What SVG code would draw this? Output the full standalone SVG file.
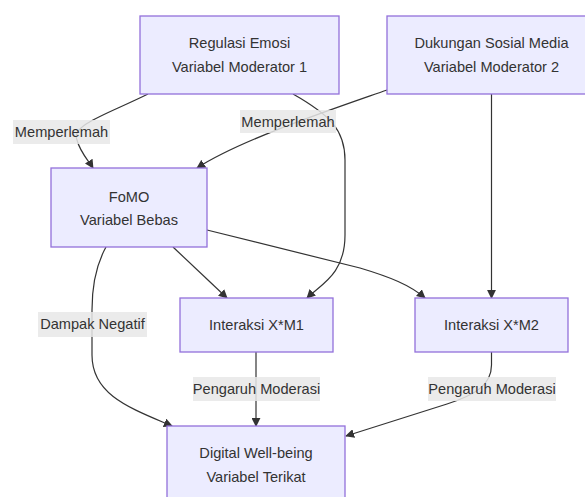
<svg xmlns="http://www.w3.org/2000/svg" width="585" height="497" viewBox="0 0 585 497">
<style>
.node rect{fill:#ECECFF;stroke:#9370DB;stroke-width:1.3}
text{font-family:"Trebuchet MS","Liberation Sans",Arial,sans-serif;font-size:14.6px;fill:#333;text-anchor:middle}
.edge{fill:none;stroke:#333;stroke-width:1.2}
.lbl rect{fill:#e8e8e8;fill-opacity:0.85}
</style>
<defs>
<marker id="arr" viewBox="0 0 10 10" refX="9" refY="5" markerWidth="9" markerHeight="9" markerUnits="userSpaceOnUse" orient="auto">
<path d="M0,0 L10,5 L0,10 z" fill="#333"/>
</marker>
</defs>
<rect width="585" height="497" fill="#fff"/>
<g id="connectors">
<path class="edge" marker-end="url(#arr)" d="M148,94 C110,113 70,125 77,140 C80,152 88,160 93,168"/>
<path class="edge" marker-end="url(#arr)" d="M387,90 C330,110 240,140 197,168"/>
<path class="edge" marker-end="url(#arr)" d="M293,94 C330,115 345,130 345,160 L345,235 C345,275 320,285 307,298"/>
<path class="edge" marker-end="url(#arr)" d="M491.5,94 L491.5,298"/>
<path class="edge" marker-end="url(#arr)" d="M173,247 L227,298"/>
<path class="edge" marker-end="url(#arr)" d="M207,230 L360,268 C390,277 410,285 425,298"/>
<path class="edge" marker-end="url(#arr)" d="M106,247 C96,265 92,285 92,310 L92,355 C92,395 130,408 172,426"/>
<path class="edge" marker-end="url(#arr)" d="M256,352 L256,426"/>
<path class="edge" marker-end="url(#arr)" d="M491.5,352 L491.5,365 C491.5,385 475,395 447,404 L346,436"/>
</g>
<g id="labels">
<g class="lbl"><rect x="13" y="120" width="97" height="24"/><text x="61.5" y="137">Memperlemah</text></g>
<g class="lbl"><rect x="240" y="110" width="96" height="23"/><text x="288" y="127">Memperlemah</text></g>
<g class="lbl"><rect x="38" y="312" width="109" height="25"/><text x="92.5" y="329">Dampak Negatif</text></g>
<g class="lbl"><rect x="193" y="377" width="127" height="24"/><text x="256.5" y="394">Pengaruh Moderasi</text></g>
<g class="lbl"><rect x="428" y="377" width="128" height="24"/><text x="492" y="394">Pengaruh Moderasi</text></g>
</g>
<g id="regulasi" class="node"><rect x="140" y="16" width="199" height="78"/><text x="239.5" y="48">Regulasi Emosi</text><text x="239.5" y="72">Variabel Moderator 1</text></g>
<g id="dukungan" class="node"><rect x="387" y="16" width="209" height="78"/><text x="491.5" y="48">Dukungan Sosial Media</text><text x="491.5" y="72">Variabel Moderator 2</text></g>
<g id="fomo" class="node"><rect x="51" y="168" width="156" height="79"/><text x="129" y="202">FoMO</text><text x="129" y="225">Variabel Bebas</text></g>
<g id="xm1" class="node"><rect x="180" y="298" width="153" height="54"/><text x="256.5" y="330">Interaksi X*M1</text></g>
<g id="xm2" class="node"><rect x="415" y="298" width="153" height="54"/><text x="491.5" y="330">Interaksi X*M2</text></g>
<g id="digital" class="node"><rect x="167" y="426" width="178" height="90"/><text x="256" y="458">Digital Well-being</text><text x="256" y="482">Variabel Terikat</text></g>
</svg>
